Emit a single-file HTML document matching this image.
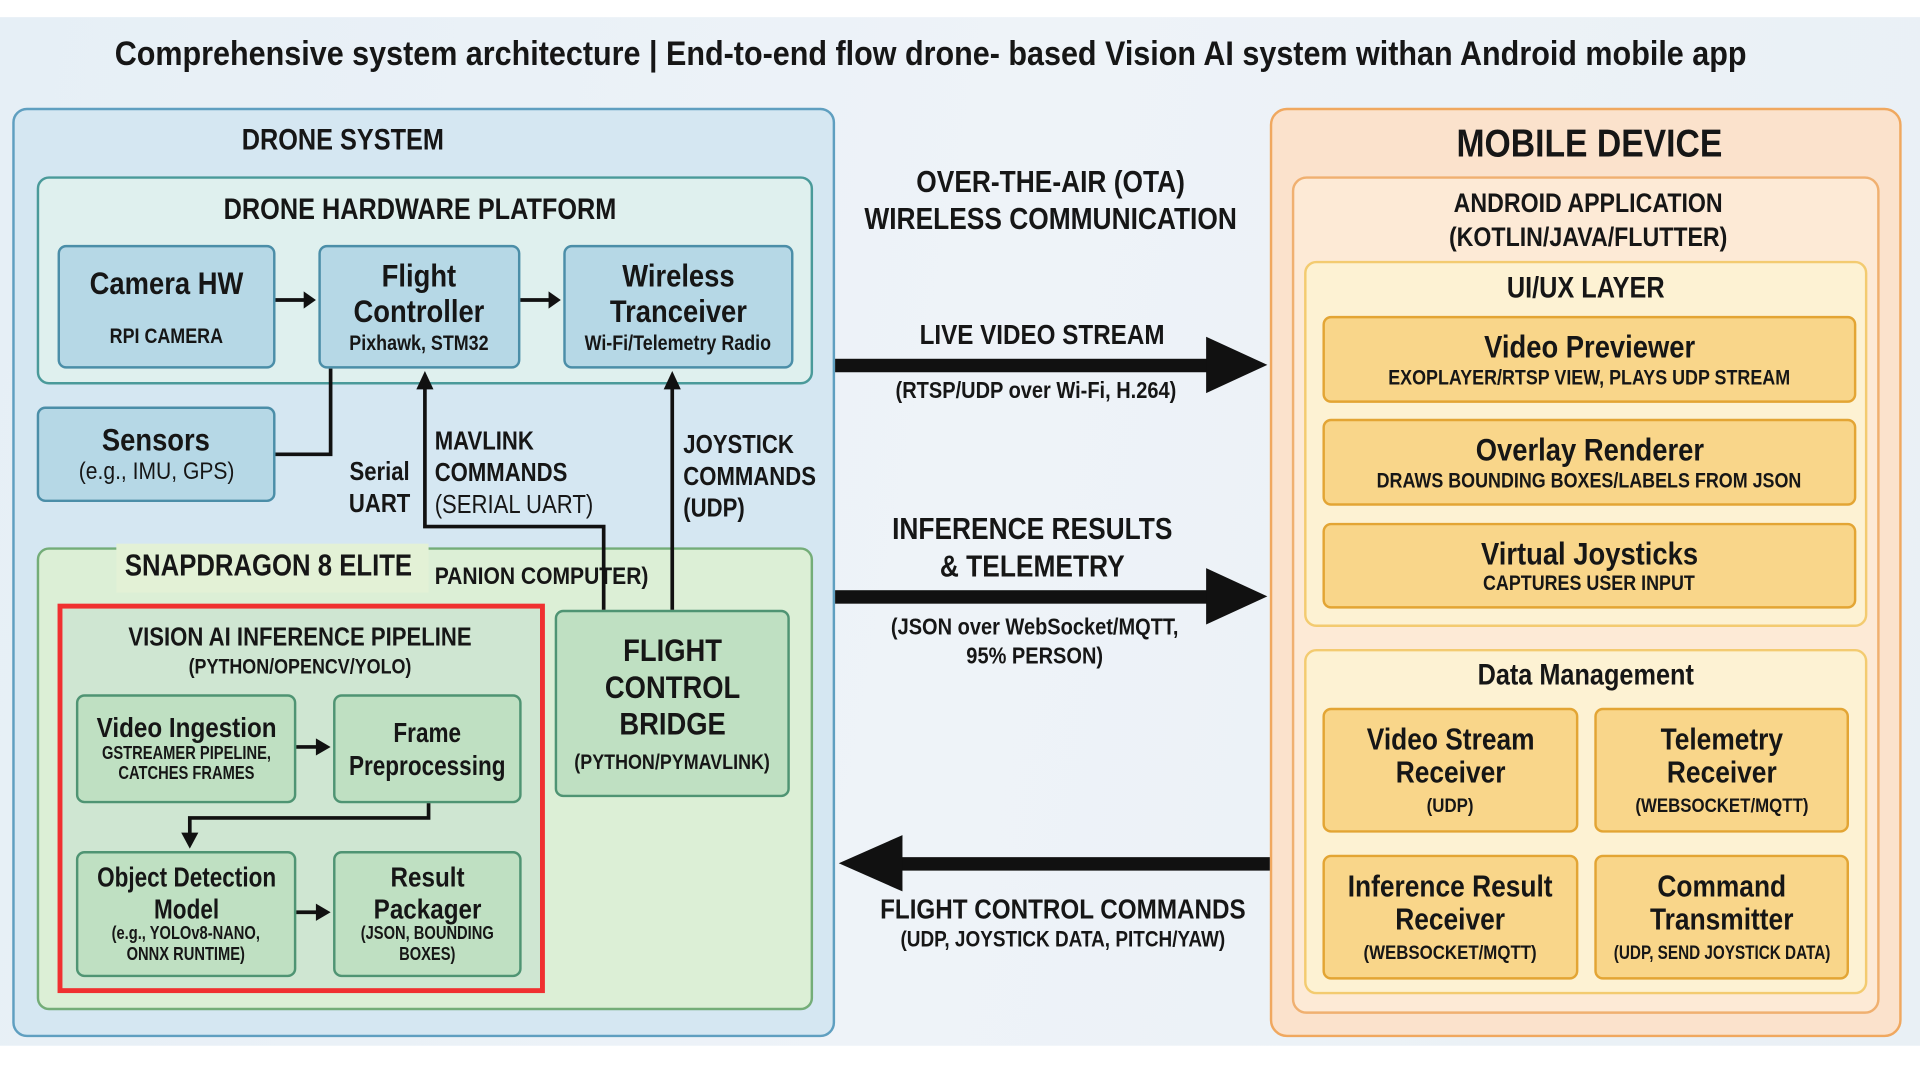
<!DOCTYPE html>
<html><head><meta charset="utf-8">
<style>
html,body{margin:0;padding:0;width:1920px;height:1080px;overflow:hidden;background:#fff}
#s{position:absolute;left:0;top:0;width:1568px;height:882px;transform:scale(1.2245);transform-origin:0 0;font-family:"Liberation Sans",sans-serif;font-weight:bold;color:#161616}
.a{position:absolute;box-sizing:border-box;white-space:nowrap;transform:scaleX(.86);transform-origin:0 0}
.r{position:absolute;box-sizing:border-box}
.b{position:absolute;box-sizing:border-box;display:flex;flex-direction:column;align-items:center;justify-content:center;text-align:center;line-height:1.12}
.b>div{transform:scaleX(.86);white-space:nowrap}
.t{position:absolute;text-align:center;white-space:nowrap;transform:translateX(-50%) scaleX(.86)}
.blue{background:#b6d8e6;border:2px solid #4b8ea8;border-radius:7px}
.grn{background:#bfe0c2;border:2px solid #4f9473;border-radius:7px}
.org{background:#f9d68a;border:2px solid #e3a534;border-radius:7px}
svg{position:absolute;left:0;top:0}
</style></head><body>
<div id="s">
<div class="r" style="left:0;top:14px;width:1568px;height:840px;background:linear-gradient(100deg,#e6eff6,#eef3f8 50%,#e9f0f5)"></div>
<div class="t" style="left:760px;top:28px;font-size:28px;transform:translateX(-50%) scaleX(.89)">Comprehensive system architecture | End-to-end flow drone- based Vision AI system withan Android mobile app</div>

<!-- Drone system -->
<div class="r" style="left:10px;top:88px;width:672px;height:759px;background:#d5e7f2;border:2px solid #5f9fc0;border-radius:12px"></div>
<div class="t" style="left:280px;top:101px;font-size:24px">DRONE SYSTEM</div>
<div class="r" style="left:30px;top:144px;width:634px;height:170px;background:#dff0ee;border:2px solid #4a9a9a;border-radius:10px"></div>
<div class="t" style="left:343px;top:158px;font-size:24px">DRONE HARDWARE PLATFORM</div>
<div class="b blue" style="left:47px;top:200px;width:178px;height:101px"><div style="font-size:26px">Camera HW</div><div style="font-size:17px;margin-top:18px">RPI CAMERA</div></div>
<div class="b blue" style="left:260px;top:200px;width:165px;height:101px"><div style="font-size:26px">Flight<br>Controller</div><div style="font-size:17px;margin-top:2px">Pixhawk, STM32</div></div>
<div class="b blue" style="left:460px;top:200px;width:188px;height:101px"><div style="font-size:26px">Wireless<br>Tranceiver</div><div style="font-size:17px;margin-top:2px">Wi-Fi/Telemetry Radio</div></div>
<div class="b blue" style="left:30px;top:332px;width:195px;height:78px"><div style="font-size:26px">Sensors</div><div style="font-size:20px;font-weight:normal">(e.g., IMU, GPS)</div></div>
<div class="t" style="left:310px;top:373px;font-size:21px;line-height:26px">Serial<br>UART</div>
<div class="a" style="left:355px;top:348px;font-size:21px;line-height:26px">MAVLINK<br>COMMANDS<br><span style="font-weight:normal">(SERIAL UART)</span></div>
<div class="a" style="left:558px;top:351px;font-size:21px;line-height:26px">JOYSTICK<br>COMMANDS<br>(UDP)</div>

<div class="r" style="left:30px;top:447px;width:634px;height:378px;background:#dcefd6;border:2px solid #74ad78;border-radius:10px"></div>
<div class="r" style="left:95px;top:444px;width:255px;height:40px;background:#e3f1d6"></div>
<div class="a" style="left:102px;top:448px;font-size:25px;transform:scaleX(.84)">SNAPDRAGON 8 ELITE</div>
<div class="a" style="left:355px;top:460px;font-size:20px">PANION COMPUTER)</div>

<div class="r" style="left:47px;top:493px;width:398px;height:318px;background:#cfe6d2;border:4px solid #f03030"></div>
<div class="t" style="left:245px;top:509px;font-size:21px">VISION AI INFERENCE PIPELINE</div>
<div class="t" style="left:245px;top:535px;font-size:17px">(PYTHON/OPENCV/YOLO)</div>
<div class="b grn" style="left:62px;top:567px;width:180px;height:89px"><div style="font-size:23px">Video Ingestion</div><div style="font-size:15px;transform:scaleX(.8)">GSTREAMER PIPELINE,<br>CATCHES FRAMES</div></div>
<div class="b grn" style="left:272px;top:567px;width:154px;height:89px"><div style="font-size:23px;line-height:1.15;transform:scaleX(.8)">Frame<br>Preprocessing</div></div>
<div class="b grn" style="left:62px;top:695px;width:180px;height:103px"><div style="font-size:23px;line-height:1.1;transform:scaleX(.8)">Object Detection<br>Model</div><div style="font-size:15px;transform:scaleX(.8)">(e.g., YOLOv8-NANO,<br>ONNX RUNTIME)</div></div>
<div class="b grn" style="left:272px;top:695px;width:154px;height:103px"><div style="font-size:23px;line-height:1.1">Result<br>Packager</div><div style="font-size:15px;transform:scaleX(.8)">(JSON, BOUNDING<br>BOXES)</div></div>
<div class="b grn" style="left:453px;top:498px;width:192px;height:153px"><div style="font-size:26px;line-height:1.15">FLIGHT<br>CONTROL<br>BRIDGE</div><div style="font-size:17px;margin-top:6px">(PYTHON/PYMAVLINK)</div></div>

<!-- Mobile -->
<div class="r" style="left:1037px;top:88px;width:516px;height:759px;background:#fbe2cc;border:2px solid #f0a85f;border-radius:14px"></div>
<div class="t" style="left:1298px;top:99px;font-size:32px">MOBILE DEVICE</div>
<div class="r" style="left:1055px;top:144px;width:480px;height:684px;background:#fdead6;border:2px solid #f0b070;border-radius:12px"></div>
<div class="t" style="left:1297px;top:152px;font-size:22px;line-height:28px">ANDROID APPLICATION<br>(KOTLIN/JAVA/FLUTTER)</div>
<div class="r" style="left:1065px;top:213px;width:460px;height:299px;background:#fdf2d3;border:2px solid #f3cb70;border-radius:10px"></div>
<div class="t" style="left:1295px;top:222px;font-size:24px">UI/UX LAYER</div>
<div class="b org" style="left:1080px;top:258px;width:436px;height:71px"><div style="font-size:26px">Video Previewer</div><div style="font-size:17px">EXOPLAYER/RTSP VIEW, PLAYS UDP STREAM</div></div>
<div class="b org" style="left:1080px;top:342px;width:436px;height:71px"><div style="font-size:26px">Overlay Renderer</div><div style="font-size:17px">DRAWS BOUNDING BOXES/LABELS FROM JSON</div></div>
<div class="b org" style="left:1080px;top:427px;width:436px;height:70px"><div style="font-size:26px">Virtual Joysticks</div><div style="font-size:17px">CAPTURES USER INPUT</div></div>
<div class="r" style="left:1065px;top:530px;width:460px;height:282px;background:#fdf2d3;border:2px solid #f3cb70;border-radius:10px"></div>
<div class="t" style="left:1295px;top:538px;font-size:24px">Data Management</div>
<div class="b org" style="left:1080px;top:578px;width:209px;height:102px"><div style="font-size:25px;line-height:1.1">Video Stream<br>Receiver</div><div style="font-size:16px;margin-top:4px">(UDP)</div></div>
<div class="b org" style="left:1302px;top:578px;width:208px;height:102px"><div style="font-size:25px;line-height:1.1">Telemetry<br>Receiver</div><div style="font-size:16px;margin-top:4px">(WEBSOCKET/MQTT)</div></div>
<div class="b org" style="left:1080px;top:698px;width:209px;height:102px"><div style="font-size:25px;line-height:1.1">Inference Result<br>Receiver</div><div style="font-size:16px;margin-top:4px">(WEBSOCKET/MQTT)</div></div>
<div class="b org" style="left:1302px;top:698px;width:208px;height:102px"><div style="font-size:25px;line-height:1.1">Command<br>Transmitter</div><div style="font-size:16px;margin-top:4px;transform:scaleX(.78)">(UDP, SEND JOYSTICK DATA)</div></div>

<!-- middle labels -->
<div class="t" style="left:858px;top:134px;font-size:25px;line-height:30px">OVER-THE-AIR (OTA)<br>WIRELESS COMMUNICATION</div>
<div class="t" style="left:851px;top:260px;font-size:23px">LIVE VIDEO STREAM</div>
<div class="t" style="left:846px;top:309px;font-size:19px">(RTSP/UDP over Wi-Fi, H.264)</div>
<div class="t" style="left:843px;top:417px;font-size:25px;line-height:31px">INFERENCE RESULTS<br>&amp; TELEMETRY</div>
<div class="t" style="left:845px;top:501px;font-size:19px;line-height:24px">(JSON over WebSocket/MQTT,<br>95% PERSON)</div>
<div class="t" style="left:868px;top:729px;font-size:23px">FLIGHT CONTROL COMMANDS</div>
<div class="t" style="left:868px;top:757px;font-size:18px">(UDP, JOYSTICK DATA, PITCH/YAW)</div>

<svg width="1568" height="882" viewBox="0 0 1568 882">
<g fill="#111" stroke="none">
<rect x="682" y="293" width="310" height="11"/><polygon points="985,275 1035,298 985,321"/>
<rect x="682" y="482" width="310" height="11"/><polygon points="985,464 1035,487 985,510"/>
<rect x="730" y="700" width="307" height="11"/><polygon points="737,682 685,705 737,728"/>
<polygon points="248,238 258,245 248,252"/>
<polygon points="448,238 458,245 448,252"/>
<polygon points="340,318 347,303 354,318"/>
<polygon points="542,318 549,303 556,318"/>
<polygon points="258,603 270,610 258,617"/>
<polygon points="148,680 155,693 162,680"/>
<polygon points="258,738 270,745 258,752"/>
</g>
<g fill="none" stroke="#111" stroke-width="3">
<line x1="225" y1="245" x2="250" y2="245"/>
<line x1="425" y1="245" x2="450" y2="245"/>
<polyline points="225,371 270,371 270,301"/>
<polyline points="347,316 347,430 493,430 493,498"/>
<line x1="549" y1="316" x2="549" y2="498"/>
<line x1="242" y1="610" x2="260" y2="610"/>
<polyline points="350,656 350,668 155,668 155,682"/>
<line x1="242" y1="745" x2="260" y2="745"/>
</g>
</svg>
</div>
</body></html>
